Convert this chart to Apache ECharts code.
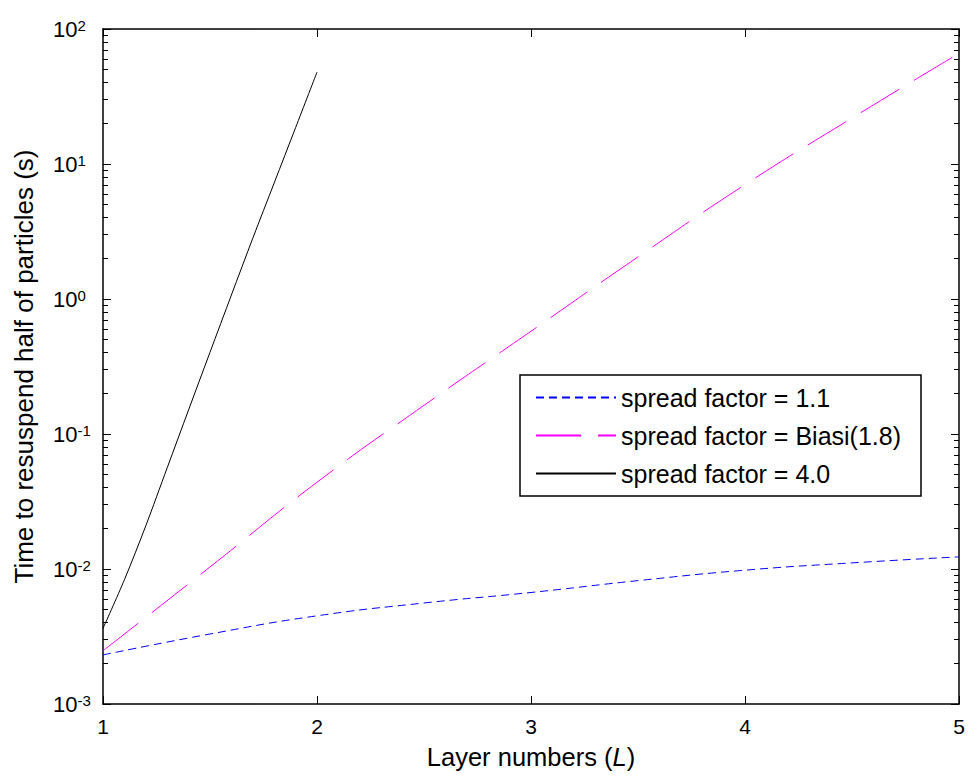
<!DOCTYPE html>
<html>
<head>
<meta charset="utf-8">
<script src="https://cdn.jsdelivr.net/npm/echarts@6/dist/echarts.min.js"></script>
<style>
  html, body { margin: 0; padding: 0; background: #fff; }
  #chart { width: 970px; height: 778px; }
</style>
</head>
<body>
<div id="chart"></div>
<script>
// ---- Data ----
const layersFine = [1, 1.5, 2, 2.5, 3, 3.5, 4, 4.5, 5];
const spread11 = [2.31e-3, 3.3e-3, 4.5e-3, 5.6e-3, 6.7e-3, 8.2e-3, 9.8e-3, 1.11e-2, 1.23e-2];
const spreadBiasi = [2.48e-3, 1.035e-2, 4.39e-2, 0.163, 0.577, 2.05, 7.03, 21.9, 66];
const layersBlack = [1, 1.1, 1.2, 1.3, 1.4, 1.5, 1.6, 1.7, 1.8, 1.9, 2.0];
const spread40 = [3.63e-3, 8.32e-3, 2.09e-2, 5.62e-2, 0.151, 0.403, 1.07, 2.82, 7.24, 18.6, 47.9];

const seriesNames = ['spread factor = 1.1', 'spread factor = Biasi(1.8)', 'spread factor = 4.0'];

const zip = (xs, ys) => xs.map((x, i) => [x, ys[i]]);

const FONT = 'Liberation Sans';
const mkAxisLine = () => ({ show: true, onZero: false, lineStyle: { color: '#000', width: 1.5 } });
const mkMajorTick = () => ({ show: true, inside: true, length: 8, lineStyle: { color: '#000', width: 1 } });
const mkMinorTick = () => ({ show: true, splitNumber: 9, length: 5, lineStyle: { color: '#000', width: 1 } });
const blankLabel = () => ({ show: true, formatter: () => '' });

const chart = echarts.init(document.getElementById('chart'), null, { renderer: 'svg' });

const option = {
  backgroundColor: '#fff',
  animation: false,
  textStyle: { fontFamily: FONT },
  grid: { left: 103, right: 11, top: 29, bottom: 74, containLabel: false },
  legend: {
    data: seriesNames,
    orient: 'vertical',
    left: 520,
    top: 375,
    backgroundColor: '#fff',
    borderColor: '#000',
    borderWidth: 1.5,
    borderRadius: 0,
    padding: [10, 20, 10, 15],
    itemWidth: 80,
    itemHeight: 14,
    itemGap: 13,
    itemStyle: { opacity: 0 },
    textStyle: { fontFamily: FONT, fontSize: 25, color: '#000', lineHeight: 24 }
  },
  xAxis: [
    {
      type: 'value', min: 1, max: 5, interval: 1, position: 'bottom',
      axisLine: mkAxisLine(),
      axisTick: mkMajorTick(),
      splitLine: { show: false },
      axisLabel: { fontFamily: FONT, fontSize: 21, color: '#000', margin: 12 },
      name: 'Layer numbers ({i|L})',
      nameLocation: 'middle',
      nameGap: 40,
      nameTextStyle: { fontFamily: FONT, fontSize: 25.5, color: '#000',
        rich: { i: { fontFamily: FONT, fontSize: 25.5, fontStyle: 'italic', color: '#000' } } }
    },
    {
      type: 'value', min: 1, max: 5, interval: 1, position: 'top',
      axisLine: mkAxisLine(),
      axisTick: mkMajorTick(),
      splitLine: { show: false },
      axisLabel: blankLabel()
    }
  ],
  yAxis: [
    {
      type: 'log', logBase: 10, min: 1e-3, max: 100, position: 'left',
      axisLine: mkAxisLine(),
      axisTick: mkMajorTick(),
      minorTick: mkMinorTick(),
      splitLine: { show: false },
      axisLabel: {
        align: 'left',
        margin: 50,
        formatter: function (v) {
          const e = Math.round(Math.log10(v));
          return '{b|10}{s|' + e + '}';
        },
        rich: {
          b: { fontFamily: FONT, fontSize: 22, color: '#000', lineHeight: 22 },
          s: { fontFamily: FONT, fontSize: 15, color: '#000', verticalAlign: 'top', lineHeight: 15 }
        }
      },
      name: 'Time to resuspend half of particles (s)',
      nameLocation: 'middle',
      nameGap: 66,
      nameTextStyle: { fontFamily: FONT, fontSize: 26, color: '#000' }
    },
    {
      type: 'log', logBase: 10, min: 1e-3, max: 100, position: 'right',
      axisLine: mkAxisLine(),
      axisTick: mkMajorTick(),
      minorTick: mkMinorTick(),
      splitLine: { show: false },
      axisLabel: blankLabel()
    }
  ],
  series: [
    {
      name: seriesNames[0], type: 'line',
      data: zip(layersFine, spread11),
      smooth: true, symbol: 'none',
      lineStyle: { color: '#0000ff', width: 1, type: [8, 5] },
      itemStyle: { color: '#0000ff' }
    },
    {
      name: seriesNames[1], type: 'line',
      data: zip(layersFine, spreadBiasi),
      smooth: true, symbol: 'none',
      lineStyle: { color: '#ff00ff', width: 1, type: [45, 17] },
      itemStyle: { color: '#ff00ff' }
    },
    {
      name: seriesNames[2], type: 'line',
      data: zip(layersBlack, spread40),
      smooth: 0.3, symbol: 'none',
      lineStyle: { color: '#000000', width: 1, type: 'solid' },
      itemStyle: { color: '#000000' }
    }
  ]
};

chart.setOption(option);
</script>
</body>
</html>
